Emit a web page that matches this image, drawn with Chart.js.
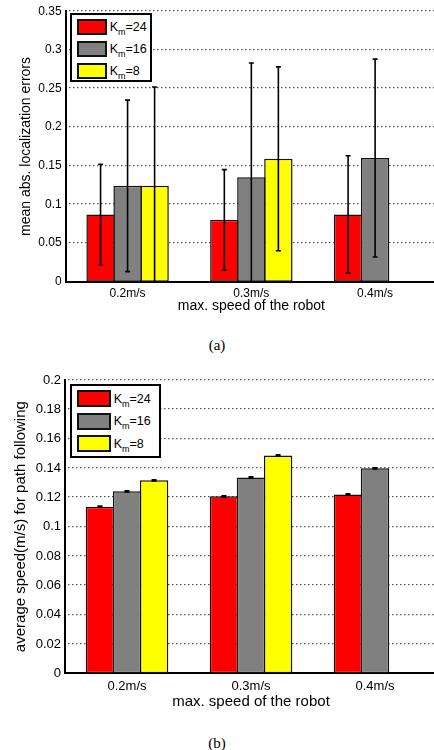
<!DOCTYPE html>
<html>
<head>
<meta charset="utf-8">
<script src="https://cdn.jsdelivr.net/npm/chart.js@4.4.1/dist/chart.umd.min.js"></script>
<style>
html, body { margin: 0; padding: 0; overflow: hidden; background: #fff; }
body { width: 434px; height: 750px; position: relative; font-family: "Liberation Sans", Arial, sans-serif; }
.wrap { position: absolute; left: 0; width: 440px; }
.legend { position: absolute; box-sizing: border-box; background: #fff; border: 2px solid #000; }
.item { position: absolute; left: 0; height: 18px; display: flex; align-items: center; }
.sw { box-sizing: border-box; border: 2px solid #111; }
.lbl { margin-left: 3px; font-size: 12.5px; color: #000; white-space: nowrap; }
.lbl sub { font-size: 9px; vertical-align: -4px; line-height: 0; }
.cap { position: absolute; width: 434px; text-align: center; font-family: "Liberation Serif", "Times New Roman", serif; font-size: 15px; color: #000; }
</style>
</head>
<body>
<div class="wrap" style="top:0;height:330px"><canvas id="chartA" width="440" height="330"></canvas></div>
<div class="legend" style="left:70px;top:12.7px;width:81.7px;height:69px">
  <div class="item" style="top:3.3px;left:4.7px"><div class="sw" style="width:30px;height:16px;background:#ff0000"></div><span class="lbl">K<sub>m</sub>=24</span></div>
  <div class="item" style="top:25px;left:4.7px"><div class="sw" style="width:30px;height:16px;background:#808080"></div><span class="lbl">K<sub>m</sub>=16</span></div>
  <div class="item" style="top:47.3px;left:4.7px"><div class="sw" style="width:30px;height:16px;background:#ffff00"></div><span class="lbl">K<sub>m</sub>=8</span></div>
</div>
<div class="cap" style="top:337px">(a)</div>

<div class="wrap" style="top:360px;height:355px"><canvas id="chartB" width="440" height="355"></canvas></div>
<div class="legend" style="left:70px;top:384.3px;width:91px;height:73.4px">
  <div class="item" style="top:3.5px;left:5px"><div class="sw" style="width:33.7px;height:16.7px;background:#ff0000"></div><span class="lbl">K<sub>m</sub>=24</span></div>
  <div class="item" style="top:26.2px;left:5px"><div class="sw" style="width:33.7px;height:16.7px;background:#808080"></div><span class="lbl">K<sub>m</sub>=16</span></div>
  <div class="item" style="top:48.5px;left:5px"><div class="sw" style="width:33.7px;height:16.7px;background:#ffff00"></div><span class="lbl">K<sub>m</sub>=8</span></div>
</div>
<div class="cap" style="top:735px">(b)</div>

<script>
Chart.defaults.font.family = "Liberation Sans";

const speeds = ["0.2m/s", "0.3m/s", "0.4m/s"];
const seriesNames = ["Km=24", "Km=16", "Km=8"];
const seriesColors = ["#ff0000", "#808080", "#ffff00"];

// (a) mean abs. localization errors
const errK24 = [0.087, 0.080, 0.087];
const errK16 = [0.124, 0.135, 0.160];
const errK8 = [0.124, 0.159, 0];
const sdK24 = [0.065, 0.065, 0.076];
const sdK16 = [0.111, 0.148, 0.128];
const sdK8 = [0.128, 0.119, 0];

// (b) average speed for path following
const spdK24 = [0.1136, 0.1207, 0.1220];
const spdK16 = [0.1241, 0.1336, 0.1398];
const spdK8 = [0.1316, 0.1486, 0];
const spdSd = [0.0004, 0.0004, 0.0004];

const ticksA = [0, 0.05, 0.1, 0.15, 0.2, 0.25, 0.3, 0.35];
const ticksB = [0, 0.02, 0.04, 0.06, 0.08, 0.1, 0.12, 0.14, 0.16, 0.18, 0.2];

// matlab style dotted grid behind the bars
const dottedGrid = {
  id: "dottedGrid",
  beforeDatasetsDraw(chart) {
    const { ctx, chartArea } = chart;
    const y = chart.scales.y;
    ctx.save();
    ctx.fillStyle = "#555";
    y.ticks.forEach(t => {
      if (t.value === 0) return;
      const py = Math.round(y.getPixelForValue(t.value));
      for (let px = chartArea.left + 3; px < chartArea.right; px += 4) {
        ctx.fillRect(Math.round(px), py - 1, 1.5, 1.2);
      }
    });
    ctx.restore();
  }
};

const errorBars = {
  id: "errorBars",
  afterDatasetsDraw(chart) {
    const { ctx, chartArea } = chart;
    const y = chart.scales.y;
    ctx.save();
    ctx.beginPath();
    ctx.rect(chartArea.left, chartArea.top - 2, chartArea.right - chartArea.left, chartArea.bottom - chartArea.top + 2);
    ctx.clip();
    ctx.strokeStyle = "#000";
    ctx.lineWidth = 1.6;
    chart.data.datasets.forEach((ds, i) => {
      const meta = chart.getDatasetMeta(i);
      meta.data.forEach((bar, j) => {
        const v = ds.data[j];
        const e = ds.errors[j];
        if (!v) return;
        const yt = y.getPixelForValue(v + e);
        const yb = y.getPixelForValue(v - e);
        const x = bar.x;
        ctx.beginPath();
        ctx.moveTo(x, yt); ctx.lineTo(x, yb);
        ctx.moveTo(x - 2.5, yt); ctx.lineTo(x + 2.5, yt);
        ctx.moveTo(x - 2.5, yb); ctx.lineTo(x + 2.5, yb);
        ctx.stroke();
      });
    });
    ctx.restore();
  }
};

function makeSets(values, errs) {
  return values.map((d, i) => ({
    label: seriesNames[i],
    data: d,
    errors: errs[i],
    backgroundColor: seriesColors[i],
    borderColor: "#111",
    borderWidth: 1.5,
    borderSkipped: false,
    barPercentage: 1.05,
    categoryPercentage: 0.655
  }));
}

function makeChart(id, sets, cfg) {
  return new Chart(document.getElementById(id), {
    type: "bar",
    data: { labels: speeds, datasets: sets },
    options: {
      responsive: false,
      animation: false,
      layout: { padding: { top: cfg.top, right: 3, left: 0, bottom: 0 } },
      plugins: { legend: { display: false }, tooltip: { enabled: false } },
      scales: {
        x: {
          grid: { display: false, drawTicks: false },
          border: { display: true, color: "#000", width: 2 },
          ticks: { color: "#000", padding: 5, font: { size: cfg.tickSize } },
          title: { display: true, text: "max. speed of the robot", color: "#000",
                   font: { size: cfg.titleSize }, padding: { top: 0, bottom: cfg.xTitlePad } },
          afterFit(s) { s.height = cfg.xHeight; }
        },
        y: {
          min: 0,
          max: cfg.ticks[cfg.ticks.length - 1],
          afterBuildTicks(s) { s.ticks = cfg.ticks.map(v => ({ value: v })); },
          grid: { display: false, drawTicks: false },
          border: { display: true, color: "#000", width: 2 },
          ticks: { color: "#000", padding: 4, font: { size: cfg.tickSize },
                   callback: v => String(+v.toFixed(2)) },
          title: { display: true, text: cfg.yTitle, color: "#000",
                   font: { size: cfg.titleSize }, padding: { top: cfg.yTitlePad, bottom: 0 } },
          afterFit(s) { s.width = cfg.yWidth; }
        }
      }
    },
    plugins: [dottedGrid, errorBars]
  });
}

makeChart("chartA", makeSets([errK24, errK16, errK8], [sdK24, sdK16, sdK8]), {
  top: 10.7, xHeight: 48.3, yWidth: 65.7, ticks: ticksA,
  tickSize: 12, titleSize: 14, xTitlePad: 15.5, yTitlePad: 18,
  yTitle: "mean abs. localization errors"
});

makeChart("chartB", makeSets([spdK24, spdK16, spdK8], [spdSd, spdSd, spdSd]), {
  top: 20, xHeight: 41.7, yWidth: 65, ticks: ticksB,
  tickSize: 13, titleSize: 15, xTitlePad: 4, yTitlePad: 12,
  yTitle: "average speed(m/s) for path following"
});
</script>
</body>
</html>
